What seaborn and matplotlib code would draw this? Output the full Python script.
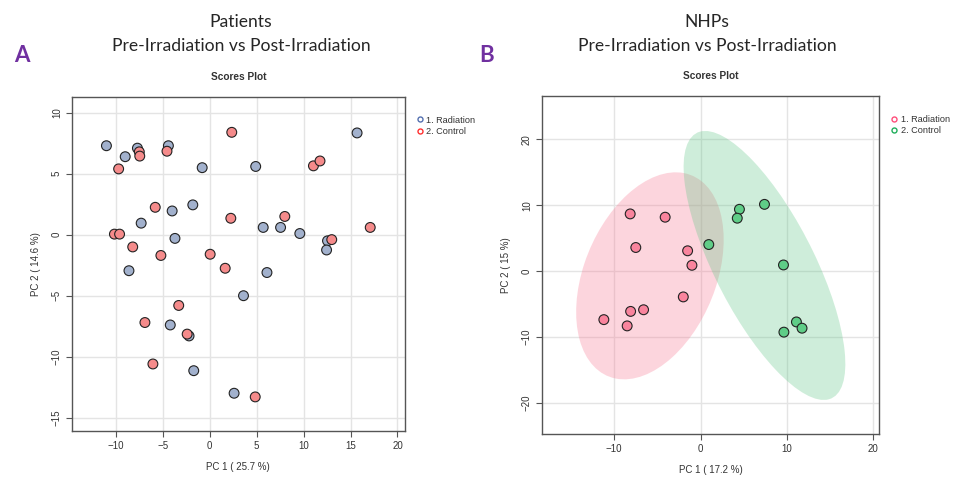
import numpy as np
import pandas as pd
import matplotlib
matplotlib.use("Agg")
import matplotlib.pyplot as plt
from matplotlib.patches import Ellipse
from matplotlib.lines import Line2D
import seaborn as sns

# ---- Patients (panel A) ----
pat_rad_x = [-11.0, -9.0, -7.7, -4.4, -0.8, 4.9, 15.7, -4.0, -1.8, -7.3, -3.7, 5.7, 7.55,
             9.6, 12.55, 12.45, -8.6, 6.1, 3.6, -4.2, -2.2, -1.7, 2.6]
pat_rad_y = [7.3, 6.4, 7.1, 7.3, 5.5, 5.6, 8.35, 1.95, 2.45, 0.95, -0.3, 0.6, 0.6,
             0.1, -0.5, -1.25, -2.95, -3.1, -5.0, -7.4, -8.3, -11.15, -13.0]
pat_ctl_x = [2.35, -7.5, -7.45, -4.55, -9.7, 11.05, 11.75, -5.8, 2.25, 8.0, 17.1, -10.15,
             -9.6, 13.0, -8.2, -5.2, 0.05, 1.65, -3.3, -6.9, -2.4, -6.05, 4.85]
pat_ctl_y = [8.4, 6.8, 6.45, 6.85, 5.4, 5.65, 6.05, 2.25, 1.35, 1.5, 0.6, 0.05,
             0.05, -0.4, -1.0, -1.7, -1.6, -2.75, -5.8, -7.2, -8.15, -10.6, -13.3]

# ---- NHPs (panel B) ----
nhp_rad_x = [-8.15, -4.1, -7.5, -1.5, -1.0, -2.0, -8.1, -6.6, -11.2, -8.5]
nhp_rad_y = [8.7, 8.2, 3.6, 3.1, 0.9, -3.9, -6.1, -5.85, -7.35, -8.3]
nhp_ctl_x = [0.95, 4.5, 4.25, 7.4, 9.6, 11.1, 11.75, 9.65]
nhp_ctl_y = [4.05, 9.4, 8.05, 10.15, 0.95, -7.7, -8.65, -9.25]

groups = ["1. Radiation", "2. Control"]

pat = pd.DataFrame({
    "PC1": pat_rad_x + pat_ctl_x,
    "PC2": pat_rad_y + pat_ctl_y,
    "group": [groups[0]] * len(pat_rad_x) + [groups[1]] * len(pat_ctl_x),
})
nhp = pd.DataFrame({
    "PC1": nhp_rad_x + nhp_ctl_x,
    "PC2": nhp_rad_y + nhp_ctl_y,
    "group": [groups[0]] * len(nhp_rad_x) + [groups[1]] * len(nhp_ctl_x),
})

sns.set_style("white")
plt.rcParams["font.family"] = ["Liberation Sans", "DejaVu Sans"]

fig = plt.figure(figsize=(9.56, 4.8), dpi=100)
axA = fig.add_axes([0.075, 0.102, 0.3486, 0.696])
axB = fig.add_axes([0.5666, 0.096, 0.3532, 0.704])


def conf_ellipse(ax, x, y, color):
    x = np.asarray(x); y = np.asarray(y)
    cov = np.cov(x, y)
    vals, vecs = np.linalg.eigh(cov)
    order = vals.argsort()[::-1]
    vals, vecs = vals[order], vecs[:, order]
    t = np.sqrt(5.991)  # 95% chi-square, 2 df
    angle = np.degrees(np.arctan2(vecs[1, 0], vecs[0, 0]))
    e = Ellipse((x.mean(), y.mean()), 2 * t * np.sqrt(vals[0]), 2 * t * np.sqrt(vals[1]),
                angle=angle, facecolor=color, edgecolor="none", alpha=0.3, zorder=1)
    ax.add_patch(e)


def style_axis(ax, xlab, ylab, xticks, yticks, xlim, ylim):
    ax.set_xlim(xlim); ax.set_ylim(ylim)
    ax.set_xticks(xticks); ax.set_yticks(yticks)
    ax.set_xticklabels([str(v).replace("-", "\u2212") for v in xticks])
    ax.set_yticklabels([str(v).replace("-", "\u2212") for v in yticks], rotation=90, va="center")
    ax.grid(True, color="#e4e4e4", linewidth=1.0, zorder=0)
    ax.set_axisbelow(True)
    for s in ax.spines.values():
        s.set_color("#555555"); s.set_linewidth(1.0)
    ax.tick_params(axis="both", direction="out", length=4, width=0.8, color="#555555",
                   labelsize=7, labelcolor="#333333", pad=3, bottom=True, left=True)
    ax.set_xlabel(xlab, fontsize=7, color="#333333", labelpad=8)
    ax.set_ylabel(ylab, fontsize=7, color="#333333", labelpad=8)
    ax.set_title("Scores Plot", fontsize=7.3, fontweight="bold", color="#333333", pad=12)


def add_legend(ax, colors):
    h = [Line2D([], [], marker="o", linestyle="none", markerfacecolor="none",
                markeredgecolor=c, markersize=3.6, markeredgewidth=1.0) for c in colors]
    ax.legend(h, groups, loc="upper left", bbox_to_anchor=(1.02, 0.955), frameon=False,
              fontsize=6.6, handletextpad=0.2, labelspacing=0.25, borderaxespad=0,
              handlelength=1, labelcolor="#333333")


# Panel A
sns.scatterplot(data=pat, x="PC1", y="PC2", hue="group", ax=axA,
                palette={groups[0]: "#a2b1cd", groups[1]: "#f58b8b"},
                s=50, edgecolor="#222222", linewidth=0.8, legend=False, zorder=3)
style_axis(axA, "PC 1 ( 25.7 %)", "PC 2 ( 14.6 %)", [-10, -5, 0, 5, 10, 15, 20],
           [-15, -10, -5, 0, 5, 10], (-14.7, 20.8), (-16.1, 11.3))
add_legend(axA, ["#5470b0", "#ff3030"])

# Panel B
conf_ellipse(axB, nhp_rad_x, nhp_rad_y, "#f8768f")
conf_ellipse(axB, nhp_ctl_x, nhp_ctl_y, "#5fc685")
sns.scatterplot(data=nhp, x="PC1", y="PC2", hue="group", ax=axB,
                palette={groups[0]: "#f9849d", groups[1]: "#5fcd87"},
                s=50, edgecolor="#222222", linewidth=0.8, legend=False, zorder=3)
style_axis(axB, "PC 1 ( 17.2 %)", "PC 2 ( 15 %)", [-10, 0, 10, 20],
           [-20, -10, 0, 10, 20], (-18.4, 20.7), (-24.7, 26.6))
add_legend(axB, ["#ff4d7a", "#1fae5a"])

# headings
for xc, name in [(241 / 956, "Patients"), (707 / 956, "NHPs")]:
    fig.text(xc, 1 - 22 / 480, name, ha="center", va="center", fontsize=12.6, family="Lato")
    fig.text(xc, 1 - 46 / 480, "Pre-Irradiation vs Post-Irradiation", ha="center",
             va="center", fontsize=12.6, family="Lato")
fig.text(22 / 956, 1 - 55 / 480, "A", ha="center", va="center", fontsize=16,
         fontweight="bold", color="#7030a0", family="Lato")
fig.text(487 / 956, 1 - 55 / 480, "B", ha="center", va="center", fontsize=16,
         fontweight="bold", color="#7030a0", family="Lato")

fig.savefig("out.png", dpi=100, facecolor="white")
